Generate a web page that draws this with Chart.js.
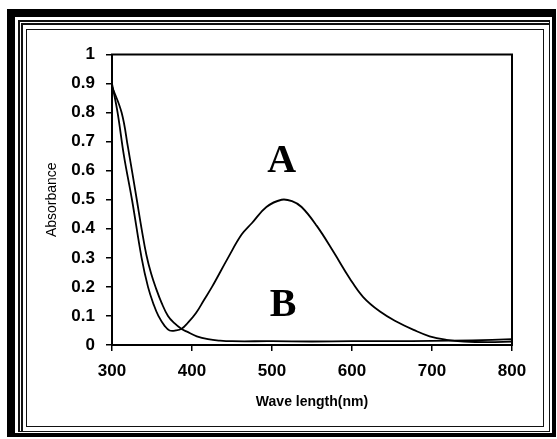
<!DOCTYPE html>
<html>
<head>
<meta charset="utf-8">
<script src="https://cdn.jsdelivr.net/npm/chart.js@4.4.1/dist/chart.umd.min.js"></script>
<style>
  body { margin: 0; background: #fff; }
  #wrap { position: relative; width: 557px; height: 439px; overflow: hidden; background: #fff; }
  #wrap canvas { position: absolute; left: 0; top: 0; }
  .frame { position: absolute; box-sizing: border-box; pointer-events: none; }
  #f1 { left: 7px; top: 9px; width: 549px; height: 428px; border-style: solid; border-color: #000; border-width: 8px 4px 4px 8px; }
  #f2 { left: 17.5px; top: 20px; width: 532px; height: 411.5px; border-left: 5px double #111; border-top: 5px double #111; border-right: 1.5px solid #111; border-bottom: 1.5px solid #111; }
  #f3 { left: 26px; top: 28.5px; width: 517.5px; height: 398px; border: 1.5px solid #111; }
</style>
</head>
<body>
<div id="wrap">
  <canvas id="spectrum" width="557" height="439"></canvas>
  <div class="frame" id="f1"></div>
  <div class="frame" id="f2"></div>
  <div class="frame" id="f3"></div>
</div>
<script>
// spectrum A (band near 515 nm)
const wavelengthA = [300, 307, 315, 325, 337, 345, 352, 358, 366, 372, 380, 387, 395, 405, 415, 425, 445, 462, 475, 493, 512, 525, 537, 556, 577, 597, 614, 635, 656, 677, 697, 718, 740, 770, 800];
const absorbanceA = [0.90, 0.80, 0.65, 0.50, 0.30, 0.20, 0.14, 0.10, 0.065, 0.05, 0.05, 0.056, 0.077, 0.11, 0.155, 0.20, 0.30, 0.38, 0.42, 0.475, 0.50, 0.495, 0.475, 0.41, 0.32, 0.23, 0.165, 0.115, 0.08, 0.052, 0.03, 0.018, 0.012, 0.01, 0.012];

// spectrum B (no band)
const wavelengthB = [300, 312, 320, 331, 337, 343, 349, 355, 362, 370, 378, 387, 393, 406, 420, 435, 450, 500, 550, 600, 650, 700, 750, 800];
const absorbanceB = [0.89, 0.80, 0.68, 0.50, 0.40, 0.31, 0.245, 0.195, 0.145, 0.10, 0.075, 0.055, 0.047, 0.03, 0.02, 0.015, 0.013, 0.013, 0.012, 0.013, 0.013, 0.014, 0.016, 0.02];

const xRange = [300, 800];
const yRange = [0, 1];

const toPoints = (xs, ys) => xs.map((x, i) => ({ x: x, y: ys[i] }));

const tickFont = { family: 'Liberation Sans, Arial, sans-serif', size: 17, weight: 'bold' };

// box round the plot area and the A / B letters
const plotExtras = {
  id: 'plotExtras',
  afterDatasetsDraw(chart) {
    const { ctx, chartArea, scales } = chart;
    ctx.save();
    ctx.strokeStyle = '#000';
    ctx.lineWidth = 2;
    ctx.strokeRect(chartArea.left, chartArea.top, chartArea.right - chartArea.left, chartArea.bottom - chartArea.top);
    ctx.fillStyle = '#000';
    ctx.font = 'bold 40px "Liberation Serif", "Times New Roman", serif';
    ctx.textAlign = 'center';
    ctx.textBaseline = 'middle';
    ctx.fillText('A', scales.x.getPixelForValue(512), scales.y.getPixelForValue(0.632));
    ctx.fillText('B', scales.x.getPixelForValue(514), scales.y.getPixelForValue(0.137));
    ctx.restore();
  }
};

new Chart(document.getElementById('spectrum'), {
  type: 'line',
  data: {
    datasets: [
      {
        label: 'A',
        data: toPoints(wavelengthA, absorbanceA),
        borderColor: '#000',
        borderWidth: 1.8,
        pointRadius: 0,
        tension: 0.4,
        fill: false
      },
      {
        label: 'B',
        data: toPoints(wavelengthB, absorbanceB),
        borderColor: '#000',
        borderWidth: 1.8,
        pointRadius: 0,
        tension: 0.4,
        fill: false
      }
    ]
  },
  options: {
    responsive: false,
    animation: false,
    layout: { padding: { left: 39.3, top: 54.5, right: 45, bottom: 24.6 } },
    plugins: { legend: { display: false }, tooltip: { enabled: false } },
    scales: {
      x: {
        type: 'linear',
        min: xRange[0],
        max: xRange[1],
        afterFit(scale) { scale.height = 69.4; },
        ticks: { stepSize: 100, color: '#000', font: tickFont, padding: 10, maxRotation: 0 },
        grid: { drawOnChartArea: false, drawTicks: true, tickLength: 6, color: '#000', lineWidth: 1.5 },
        border: { display: true, color: '#000', width: 2 },
        title: {
          display: true,
          text: 'Wave length(nm)',
          color: '#000',
          font: { family: 'Liberation Sans, Arial, sans-serif', size: 14, weight: 'bold' },
          padding: { top: 4, bottom: 4 }
        }
      },
      y: {
        min: yRange[0],
        max: yRange[1],
        afterFit(scale) { scale.width = 72.7; },
        ticks: { stepSize: 0.1, color: '#000', font: tickFont, padding: 11, callback: v => String(+v.toFixed(1)) },
        grid: { drawOnChartArea: false, drawTicks: true, tickLength: 6, color: '#000', lineWidth: 1.5 },
        border: { display: true, color: '#000', width: 2 },
        title: {
          display: true,
          text: 'Absorbance',
          color: '#000',
          font: { family: 'Liberation Sans, Arial, sans-serif', size: 14 },
          padding: { top: 4, bottom: 4 }
        }
      }
    }
  },
  plugins: [plotExtras]
});
</script>
</body>
</html>
